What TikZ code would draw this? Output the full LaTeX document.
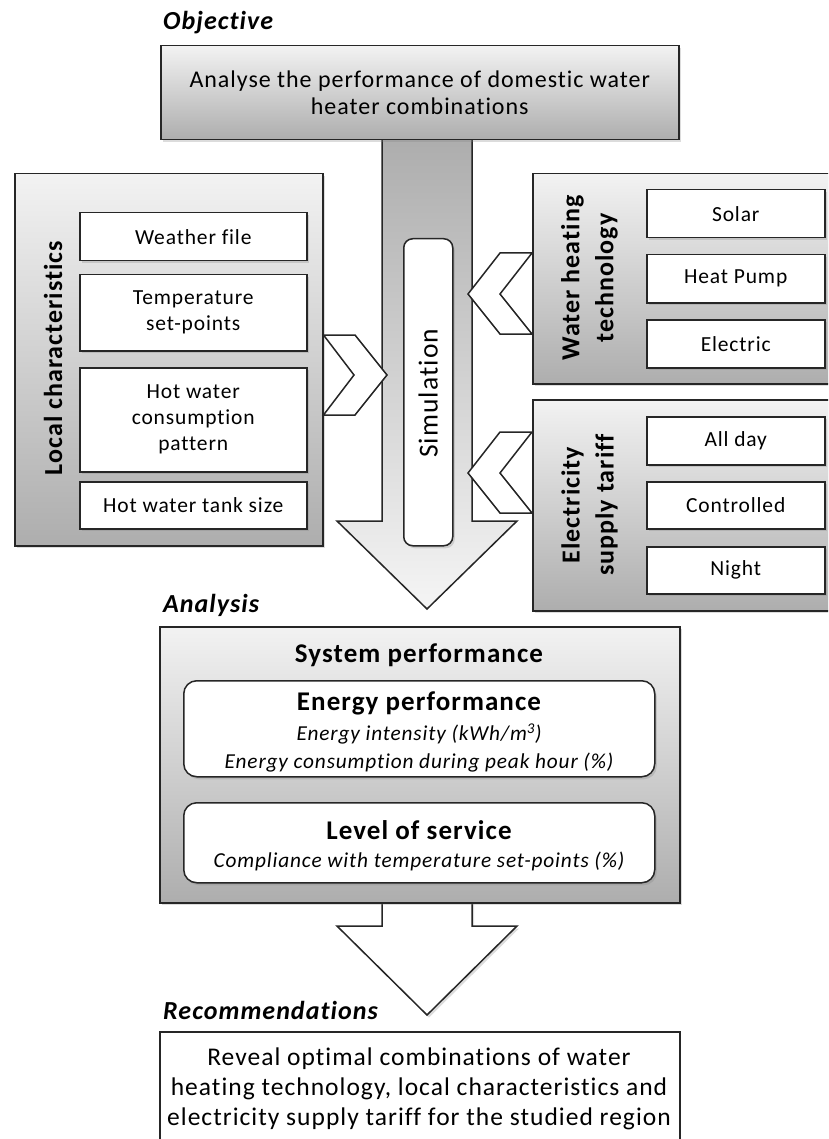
\documentclass[tikz,border=0pt]{standalone}
\usepackage{fontspec}
\setmainfont{Carlito}[LetterSpace=4, Ligatures={NoCommon}]
\usetikzlibrary{shadows}
\begin{document}
\begin{tikzpicture}[x=1pt,y=-1pt]
\tikzset{
  outl/.style={draw=black!85, line width=1.5pt, line join=miter},
  shad/.style={drop shadow={shadow xshift=2pt, shadow yshift=-2.5pt, opacity=0.28}},
  graybox/.style={outl, shad, top color=black!5, bottom color=black!32, inner sep=0pt, anchor=north west},
  whitebox/.style={outl, shad, fill=white, inner sep=0pt, anchor=north west, align=center,
     font=\fontsize{21.5}{26}\selectfont},
  roundbox/.style={whitebox, rounded corners=13pt},
  chev/.style={outl, fill=white},
  sectlabel/.style={font=\fontsize{26}{28}\selectfont\bfseries\itshape, anchor=west, inner sep=0pt},
  vlabel/.style={rotate=90, align=center, inner sep=0pt, font=\fontsize{26}{34}\selectfont\bfseries},
  headtxt/.style={font=\fontsize{27}{30}\selectfont\bfseries, inner sep=0pt},
  ittxt/.style={font=\fontsize{21.3}{24}\selectfont\itshape, inner sep=0pt},
}
\useasboundingbox (0,0) rectangle (828,1139);
\clip (0,0) rectangle (828,1139);

% ---------- big arrow (behind) ----------
\coordinate (s1) at (382,139);
\coordinate (s2) at (382,521);
\coordinate (h1) at (337,521);
\coordinate (tip) at (427,609);
\coordinate (h2) at (517,521);
\coordinate (s3) at (472,521);
\coordinate (s4) at (472,139);
\path[outl, top color=black!32, bottom color=black!4]
  (s1) -- (s2) -- (h1) -- (tip) -- (h2) -- (s3) -- (s4) -- cycle;

% ---------- objective ----------
\node[sectlabel] (objl) at (163,23) {Objective};
\node[graybox, minimum width=518pt, minimum height=94pt, align=center,
      font=\fontsize{24}{27}\selectfont] (obj) at (160,45)
  {Analyse the performance of domestic water\\heater combinations};

% ---------- local characteristics ----------
\node[graybox, minimum width=308pt, minimum height=372pt] (loc) at (14,173) {};
\node[vlabel] (locl) at (53,358) {Local characteristics};
\node[whitebox, minimum width=227pt, minimum height=48pt] (wf) at (79,212) {Weather file};
\node[whitebox, minimum width=227pt, minimum height=76pt] (tsp) at (79,274) {Temperature\\set-points};
\node[whitebox, minimum width=227pt, minimum height=104pt] (hwc) at (79,367) {Hot water\\consumption\\pattern};
\node[whitebox, minimum width=227pt, minimum height=47pt] (tank) at (79,481) {Hot water tank size};

% ---------- water heating technology ----------
\node[graybox, minimum width=330pt, minimum height=210pt] (wht) at (532,173) {};
\node[vlabel] (whtl) at (589.5,278) {Water heating\\technology};
\node[whitebox, minimum width=178pt, minimum height=48pt] (solar) at (646,189) {Solar};
\node[whitebox, minimum width=178pt, minimum height=48pt] (hp) at (646,254) {Heat Pump};
\node[whitebox, minimum width=178pt, minimum height=48pt] (elec) at (646,319) {Electric};

% ---------- electricity supply tariff ----------
\node[graybox, minimum width=330pt, minimum height=211pt] (tar) at (532,399) {};
\node[vlabel] (tarl) at (589.5,505) {Electricity\\supply tariff};
\node[whitebox, minimum width=178pt, minimum height=48pt] (allday) at (646,416) {All day};
\node[whitebox, minimum width=178pt, minimum height=47pt] (ctrl) at (646,481) {Controlled};
\node[whitebox, minimum width=178pt, minimum height=47pt] (night) at (646,546) {Night};

% ---------- chevrons ----------
\path[chev] (loc.east |- 0,335) -- (355,335) -- (387,375) -- (355,415) -- (loc.east |- 0,415) -- (354,375) -- cycle;
\path[chev] (wht.west |- 0,253) -- (500,253) -- (468,294) -- (500,334) -- (wht.west |- 0,334) -- (500,294) -- cycle;
\path[chev] (tar.west |- 0,432) -- (500,432) -- (468,473) -- (500,513) -- (tar.west |- 0,513) -- (500,473) -- cycle;

% ---------- simulation ----------
\node[whitebox, rounded corners=9pt, minimum width=49pt, minimum height=307pt] (sim) at (403,238) {};
\node[rotate=90, inner sep=0pt, font=\fontsize{27.5}{30}\selectfont] (siml) at ([yshift=-1pt]sim.center) {Simulation};

% ---------- bottom arrow ----------
\coordinate (b1) at (382,900);
\coordinate (b2) at (382,926);
\coordinate (bh1) at (337,926);
\coordinate (btip) at (427,1015);
\coordinate (bh2) at (517,926);
\coordinate (b3) at (472,926);
\coordinate (b4) at (472,900);
\path[outl, fill=white, shad] (b1) -- (b2) -- (bh1) -- (btip) -- (bh2) -- (b3) -- (b4);

% ---------- analysis ----------
\node[sectlabel] (anl) at (163,605) {Analysis};
\node[graybox, minimum width=520pt, minimum height=276pt] (ana) at (159,626) {};
\node[headtxt] (sysp) at (419,655) {System performance};
\node[roundbox, minimum width=471pt, minimum height=96pt] (enp) at (183,680) {};
\node[headtxt] (enpt) at (419,703) {Energy performance};
\node[ittxt] (ei) at (419,734) {Energy intensity (kWh/m\textsuperscript{3})};
\node[ittxt] (ec) at (419,763) {Energy consumption during peak hour (\%)};
\node[roundbox, minimum width=471pt, minimum height=80pt] (los) at (183,802) {};
\node[headtxt] (lost) at (419,830) {Level of service};
\node[ittxt] (comp) at (419,861) {Compliance with temperature set-points (\%)};

% ---------- recommendations ----------
\node[sectlabel] (recl) at (163,1010) {Recommendations};
\node[outl, fill=white, inner sep=0pt, anchor=north west, minimum width=520pt, minimum height=140pt] (rec) at (159,1031) {};
\node[align=center, inner sep=0pt, font=\fontsize{25.5}{30}\selectfont] (rect) at (419,1089)
  {Reveal optimal combinations of water\\heating technology, local characteristics and\\electricity supply tariff for the studied region};
\end{tikzpicture}
\end{document}
